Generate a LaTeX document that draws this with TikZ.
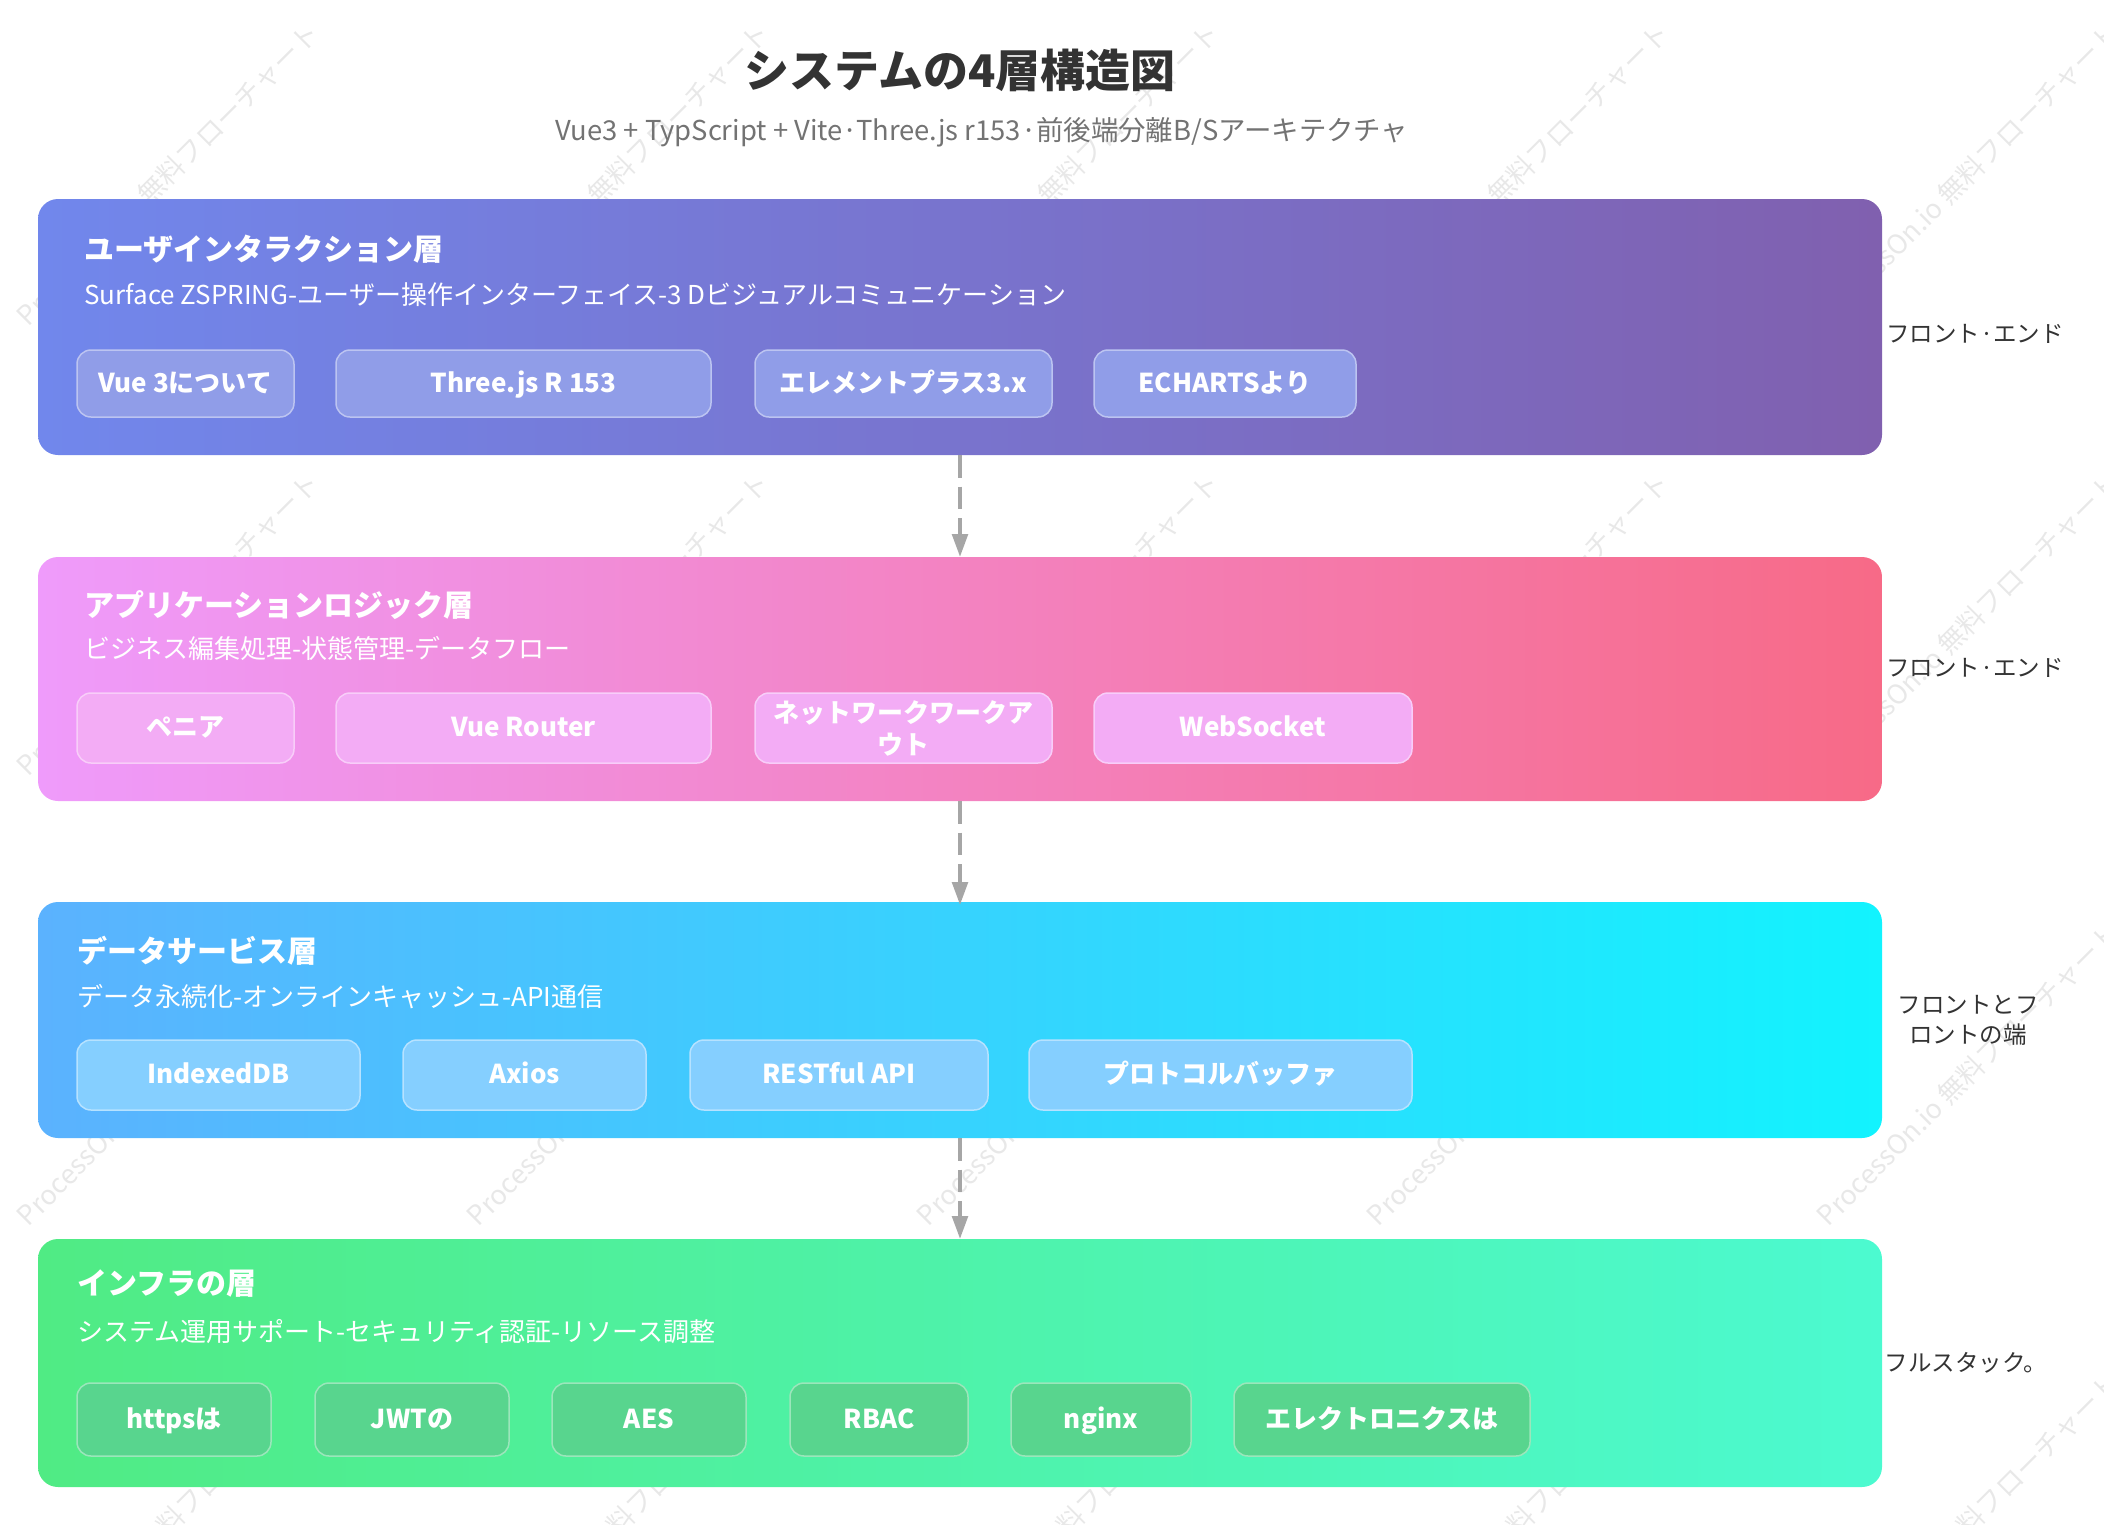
\documentclass[tikz,border=0pt]{standalone}
\usepackage{fontspec}
\setmainfont{Noto Sans CJK JP}
\usetikzlibrary{arrows.meta}
\definecolor{wmgray}{HTML}{E8E8E8}
\definecolor{linkgray}{HTML}{A6A6A6}
\definecolor{chipblue}{HTML}{909DE8}
\definecolor{chippink}{HTML}{F3ACF5}
\definecolor{chipsky}{HTML}{85CFFF}
\definecolor{chipgreen}{HTML}{58D58E}
\definecolor{layerAleft}{HTML}{7187EC}
\definecolor{layerAright}{HTML}{8060AF}
\definecolor{layerBleft}{HTML}{EF9BFB}
\definecolor{layerBright}{HTML}{F76A87}
\definecolor{layerCleft}{HTML}{5BB2FE}
\definecolor{layerCright}{HTML}{12F3FE}
\definecolor{layerDleft}{HTML}{50EB84}
\definecolor{layerDright}{HTML}{4CFAD0}
\tikzset{
	fsize/.style={font=\fontsize{#1}{#1}\selectfont},
	wmtext/.style={fsize=27, text=wmgray, rotate=45, inner sep=0pt},
	layerbox/.style={anchor=north west, rounded corners=20pt, minimum width=1844pt, inner sep=0pt, outer sep=0pt},
	layertitle/.style={anchor=west, inner sep=0pt, text=white, font=\fontsize{30}{36}\selectfont\bfseries},
	layersub/.style={anchor=west, inner sep=0pt, text=white, fsize=26},
	chipbox/.style={anchor=north west, rounded corners=14pt, line width=1.5pt, inner sep=0pt, outer sep=0pt, align=center, text=white, text height=21pt, text depth=4pt, font=\fontsize{26}{32}\selectfont\bfseries},
	chipA/.style={chipbox, fill=chipblue, draw=chipblue!60!white, minimum height=67pt},
	chipB/.style={chipbox, fill=chippink, draw=chippink!60!white, minimum height=70pt},
	chipC/.style={chipbox, fill=chipsky, draw=chipsky!60!white, minimum height=70pt},
	chipD/.style={chipbox, fill=chipgreen, draw=chipgreen!60!white, minimum height=73pt},
	sidetext/.style={inner sep=0pt, align=center, text=black!80, font=\fontsize{23.5}{30}\selectfont},
	linkarrow/.style={draw=linkgray, line width=4pt, dash pattern=on 22.5pt off 9pt, -{Triangle[length=23pt,width=15.5pt]}},
}
\begin{document}
\begin{tikzpicture}[x=1pt, y=-1pt]
		\useasboundingbox (0, 0) rectangle (2104, 1524);
		% watermark tiles
		\foreach \i in {0,...,4} {
			\foreach \j in {0,...,3} {
				\node(wm\i\j)[wmtext] at ({168+450*\i}, {174+450*\j}) {ProcessOn.io 無料フローチャート};
			}
		}
		% heading
		\node(heading)[inner sep=0pt, text=black!80, font=\fontsize{45}{54}\selectfont\bfseries] at (960, 70) {システムの4層構造図};
		\node(subheading)[inner sep=0pt, text=black!55, fsize=27.4] at (982, 132) {Vue3 + TypScript + Vite·Three.js r153·前後端分離B/Sアーキテクチャ};
		% layers
		\node(layerA)[layerbox, left color=layerAleft, right color=layerAright, minimum height=256pt] at (38, 199) {};
		\node(layerB)[layerbox, left color=layerBleft, right color=layerBright, minimum height=244pt] at (38, 557) {};
		\node(layerC)[layerbox, left color=layerCleft, right color=layerCright, minimum height=236pt] at (38, 902) {};
		\node(layerD)[layerbox, left color=layerDleft, right color=layerDright, minimum height=248pt] at (38, 1239) {};
		% layer texts
		\node(titleA)[layertitle] at (84, 249) {ユーザインタラクション層};
		\node(subA)[layersub] at (84, 295) {Surface ZSPRING-ユーザー操作インターフェイス-3 Dビジュアルコミュニケーション};
		\node(titleB)[layertitle] at (84, 605) {アプリケーションロジック層};
		\node(subB)[layersub] at (84, 648) {ビジネス編集処理-状態管理-データフロー};
		\node(titleC)[layertitle] at (77, 951) {データサービス層};
		\node(subC)[layersub] at (77, 997) {データ永続化-オンラインキャッシュ-API通信};
		\node(titleD)[layertitle] at (77, 1284) {インフラの層};
		\node(subD)[layersub] at (77, 1332) {システム運用サポート-セキュリティ認証-リソース調整};
		% chips
		\node(vue)[chipA, minimum width=217pt] at (77, 350) {Vue 3について};
		\node(three)[chipA, minimum width=375pt] at (336, 350) {Three.js R 153};
		\node(element)[chipA, minimum width=297pt] at (755, 350) {エレメントプラス3.x};
		\node(echarts)[chipA, minimum width=262pt] at (1094, 350) {ECHARTSより};
		\node(pinia)[chipB, minimum width=217pt] at (77, 693) {ペニア};
		\node(router)[chipB, minimum width=375pt] at (336, 693) {Vue Router};
		\node(network)[chipB, minimum width=297pt, text height=, text depth=] at (755, 693) {ネットワークワークア\\ウト};
		\node(socket)[chipB, minimum width=318pt] at (1094, 693) {WebSocket};
		\node(indexed)[chipC, minimum width=283pt] at (77, 1040) {IndexedDB};
		\node(axios)[chipC, minimum width=243pt] at (403, 1040) {Axios};
		\node(rest)[chipC, minimum width=298pt] at (690, 1040) {RESTful API};
		\node(proto)[chipC, minimum width=383pt] at (1029, 1040) {プロトコルバッファ};
		\node(https)[chipD, minimum width=194pt] at (77, 1383) {httpsは};
		\node(jwt)[chipD, minimum width=194pt] at (315, 1383) {JWTの};
		\node(aes)[chipD, minimum width=194pt] at (552, 1383) {AES};
		\node(rbac)[chipD, minimum width=178pt] at (790, 1383) {RBAC};
		\node(nginx)[chipD, minimum width=180pt] at (1011, 1383) {nginx};
		\node(electron)[chipD, minimum width=296pt] at (1234, 1383) {エレクトロニクスは};
		% side labels
		\node(sideA)[sidetext] at (1975, 334) {フロント·エンド};
		\node(sideB)[sidetext] at (1975, 668) {フロント·エンド};
		\node(sideC)[sidetext] at (1968, 1020) {フロントとフ\\ロントの端};
		\node(sideD)[sidetext] at (1966, 1363) {フルスタック。};
		% links
		\draw[linkarrow] (layerA.south) -- (layerB.north);
		\draw[linkarrow, shorten >=-3pt] (layerB.south) -- (layerC.north);
		\draw[linkarrow] (layerC.south) -- (layerD.north);
\end{tikzpicture}
\end{document}
